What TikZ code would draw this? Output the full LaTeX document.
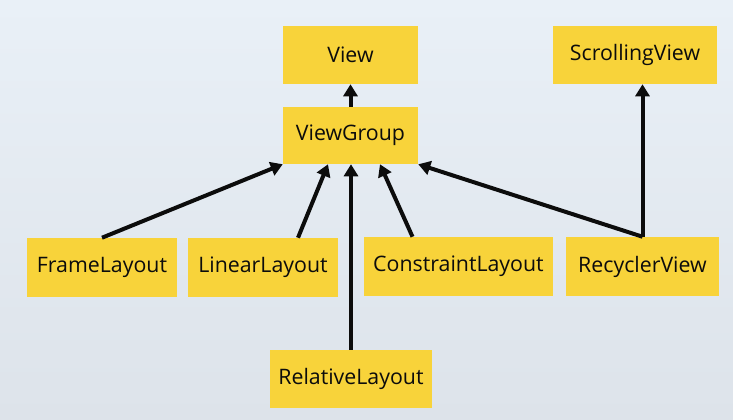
\documentclass[tikz,border=0pt]{standalone}
\usepackage{fontspec}
\setmainfont{Open Sans}
\usetikzlibrary{calc,arrows.meta}
\definecolor{boxyellow}{RGB}{248,211,58}
\definecolor{bgtop}{RGB}{233,240,247}
\definecolor{bgbot}{RGB}{221,227,234}
\definecolor{ink}{RGB}{12,12,12}
\tikzset{
  cls/.style={fill=boxyellow, draw=none, inner sep=0pt, text=ink,
    font=\fontsize{16pt}{18pt}\selectfont},
  inh/.style={draw=ink, line width=3pt,
    -{Triangle[length=9pt,width=10.5pt]}},
  plain/.style={draw=ink, line width=3pt},
}
\begin{document}
\begin{tikzpicture}[x=0.75pt,y=-0.75pt]
\shade[top color=bgtop,bottom color=bgbot] (0,0) rectangle (733,420);
\useasboundingbox (0,0) rectangle (733,420);
\node[cls, minimum width=101.25pt, minimum height=43.5pt] (view) at (350.5,55) {View};
\node[cls, minimum width=101.25pt, minimum height=42.75pt] (vg) at (350.5,135.5) {ViewGroup};
\node[cls, minimum width=123pt, minimum height=43.5pt] (scroll) at (635,55) {ScrollingView};
\node[cls, minimum width=112.5pt, minimum height=44.25pt] (frame) at (102,267.5) {FrameLayout};
\node[cls, minimum width=112.5pt, minimum height=44.25pt] (linear) at (263,267.5) {LinearLayout};
\node[cls, minimum width=141.75pt, minimum height=44.25pt] (constr) at (458.5,266.5) {ConstraintLayout};
\node[cls, minimum width=114.75pt, minimum height=44.25pt] (recycler) at (642.5,266.5) {RecyclerView};
\node[cls, minimum width=121.5pt, minimum height=43.5pt] (rel) at (351,379) {RelativeLayout};
\draw[inh] (vg.north) -- (view.south);
\draw[inh] (frame.north) -- (vg.south west);
\draw[inh] ($(linear.north)+(35,0)$) -- ($(vg.south)+(-22.5,0)$);
\draw[inh] (rel.north) -- (rel.north |- vg.south);
\draw[inh] ($(constr.north)+(-46,0)$) -- ($(vg.south)+(29.5,0)$);
\draw[inh] (recycler.north) -- (vg.south east);
\draw[inh] (recycler.north) -- (recycler.north |- scroll.south);
\end{tikzpicture}
\end{document}
